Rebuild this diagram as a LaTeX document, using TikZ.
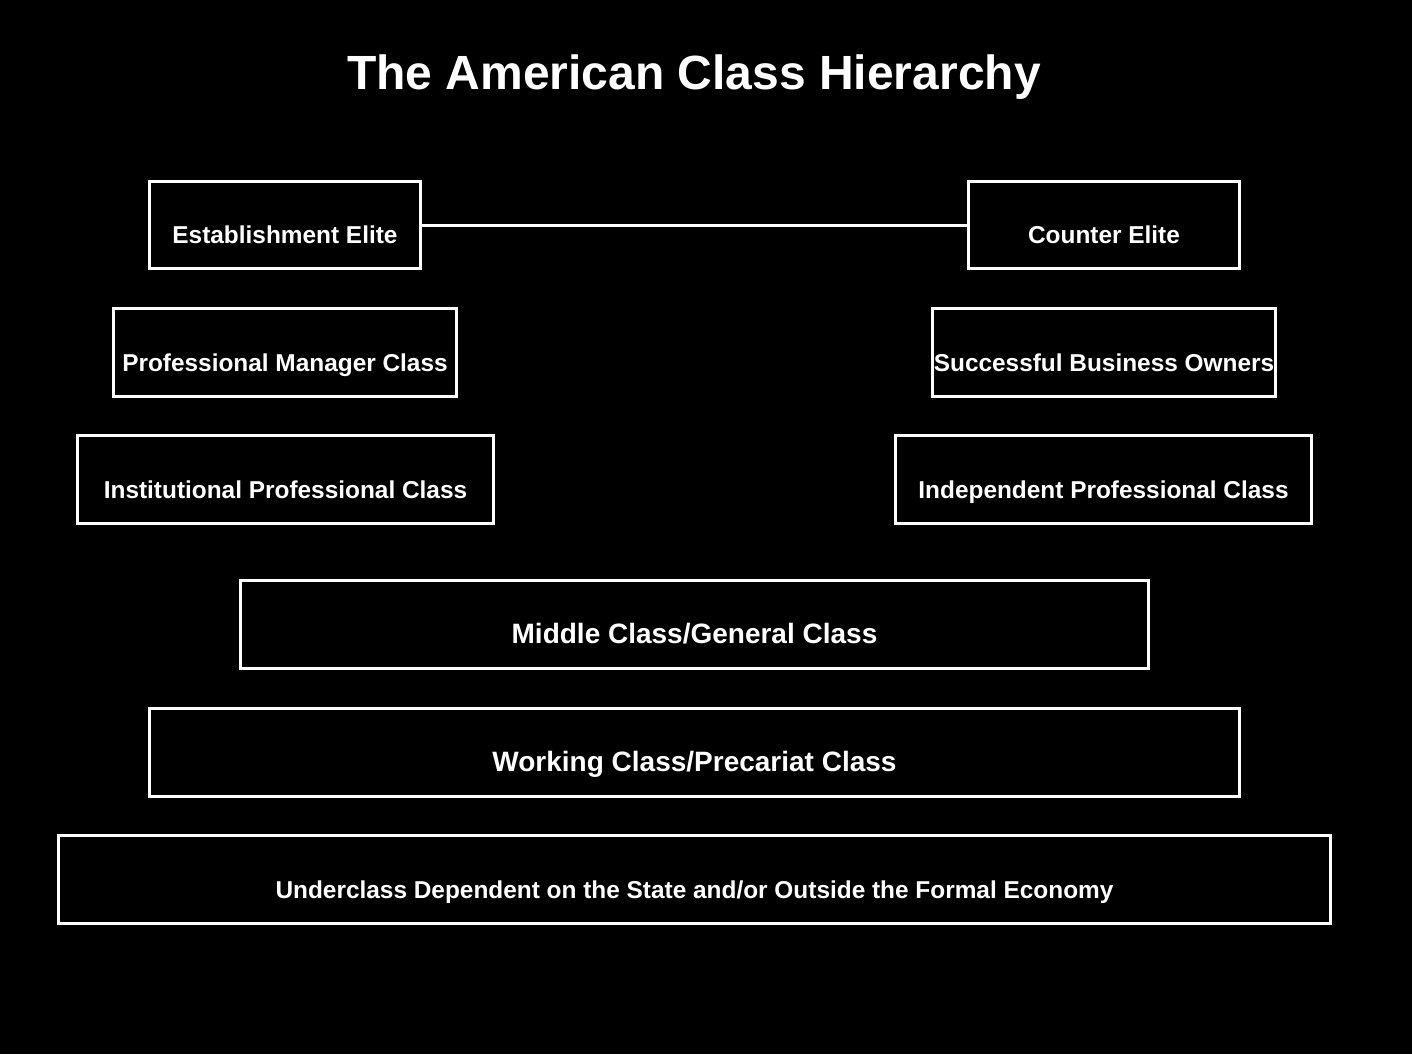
\documentclass[tikz,border=0pt]{standalone}
\usepackage{fontspec}
\setmainfont{Liberation Sans}
\begin{document}
\begin{tikzpicture}[x=0.5pt,y=-0.5pt,
  cbox/.style n args={3}{draw=white, line width=1.5pt, text=white, inner sep=0pt,
    minimum width=#1*0.5pt, minimum height=#2*0.5pt,
    text height=18.5pt, text depth=0pt,
    font=\bfseries\fontsize{#3}{#3}\selectfont},
  link/.style={draw=white, line width=1.5pt}]
\fill[black] (0,0) rectangle (1412,1054);
\useasboundingbox (0,0) rectangle (1412,1054);
\node[text=white, font=\bfseries\fontsize{24pt}{24pt}\selectfont, anchor=base, inner sep=0pt] (title) at (694,90) {The American Class Hierarchy};
\node[cbox={271}{87}{12.2pt}] (ee) at (285,225) {Establishment Elite};
\node[cbox={271}{87}{12.2pt}] (ce) at (1104,225) {Counter Elite};
\node[cbox={343}{88}{12.2pt}] (pmc) at (285,352.5) {Professional Manager Class};
\node[cbox={343}{88}{12.2pt}] (sbo) at (1104,352.5) {Successful Business Owners};
\node[cbox={416}{88}{12.2pt}] (ipc) at (285.5,479.5) {Institutional Professional Class};
\node[cbox={416}{88}{12.2pt}] (indpc) at (1103.5,479.5) {Independent Professional Class};
\node[cbox={908}{88}{14pt}] (mc) at (694.5,624.5) {Middle Class/General Class};
\node[cbox={1090}{88}{14pt}] (wc) at (694.5,752.5) {Working Class/Precariat Class};
\node[cbox={1272}{88}{12.2pt}] (uc) at (694.5,879.5) {Underclass Dependent on the State and/or Outside the Formal Economy};
\draw[link] (ee.east) -- (ce.west);
\end{tikzpicture}
\end{document}
